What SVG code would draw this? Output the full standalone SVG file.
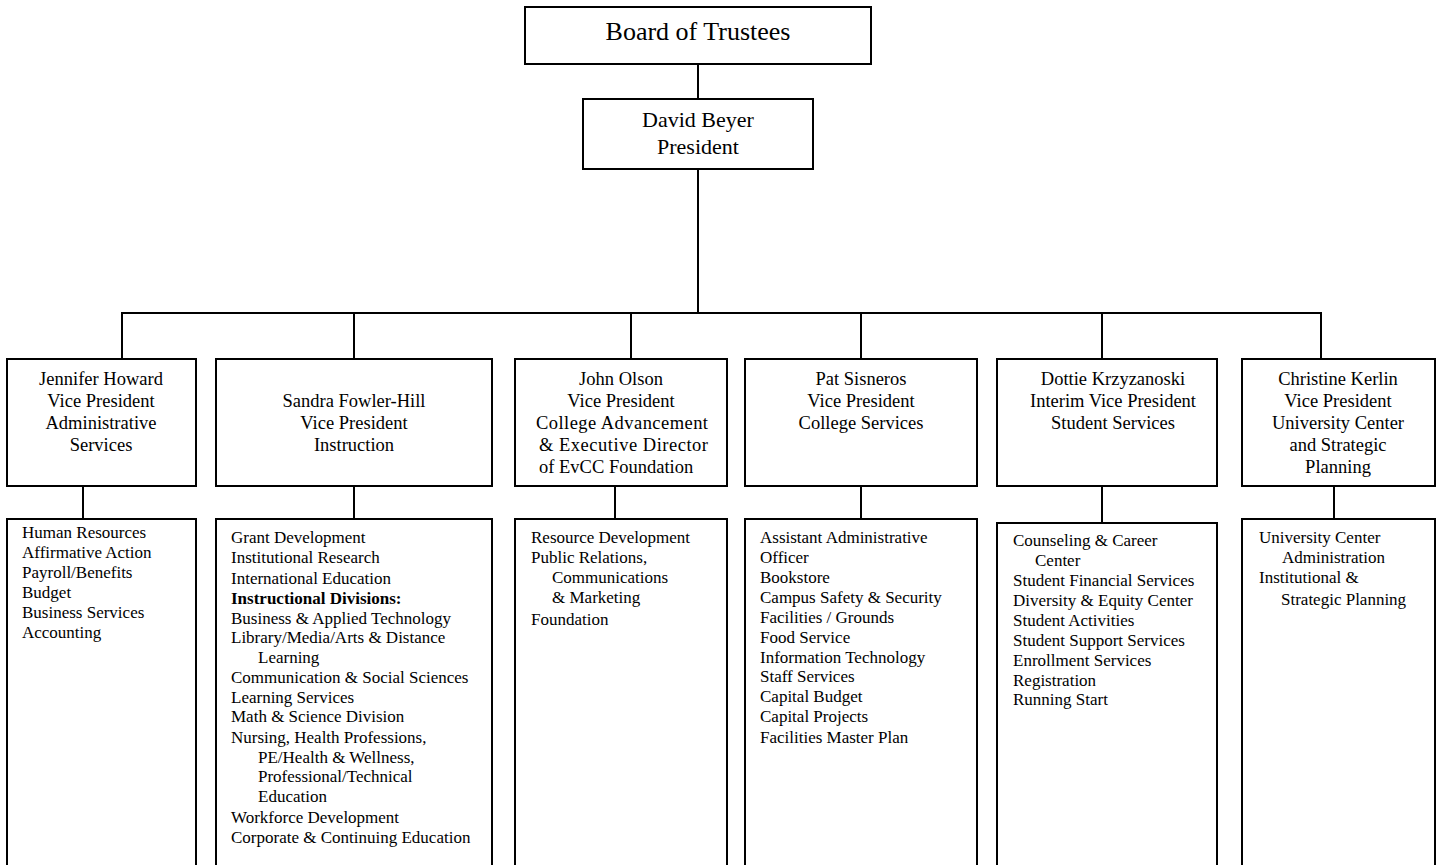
<svg xmlns="http://www.w3.org/2000/svg" width="1442" height="865" viewBox="0 0 1442 865">
  <style>
    .box { fill: #fff; stroke: #000; stroke-width: 2; }
    .conn line { stroke: #000; stroke-width: 2; }
    text { font-family: "Liberation Serif", "Times New Roman", serif; fill: #000; }
    .t1 { font-size: 26px; text-anchor: middle; }
    .t2 { font-size: 22px; text-anchor: middle; }
    .vp { font-size: 18.5px; text-anchor: middle; }
    .li { font-size: 17px; }
    .b { font-weight: bold; }
  </style>
  <rect width="1442" height="865" fill="#fff"/>

  <!-- connectors -->
  <g id="connectors" class="conn">
    <line x1="698" y1="64" x2="698" y2="99"/>
    <line x1="698" y1="169" x2="698" y2="313"/>
    <line x1="121" y1="313" x2="1322" y2="313"/>
    <line x1="122" y1="313" x2="122" y2="359"/>
    <line x1="354" y1="313" x2="354" y2="359"/>
    <line x1="631" y1="313" x2="631" y2="359"/>
    <line x1="861" y1="313" x2="861" y2="359"/>
    <line x1="1102" y1="313" x2="1102" y2="359"/>
    <line x1="1321" y1="313" x2="1321" y2="359"/>
    <line x1="83" y1="486" x2="83" y2="519"/>
    <line x1="354" y1="486" x2="354" y2="519"/>
    <line x1="615" y1="486" x2="615" y2="519"/>
    <line x1="861" y1="486" x2="861" y2="519"/>
    <line x1="1102" y1="486" x2="1102" y2="523"/>
    <line x1="1334" y1="486" x2="1334" y2="519"/>
  </g>

  <g id="board">
    <rect class="box" x="525" y="7" width="346" height="57"/>
    <text class="t1" x="698" y="40">Board of Trustees</text>
  </g>

  <g id="president">
    <rect class="box" x="583" y="99" width="230" height="70"/>
    <text class="t2" x="698" y="127">David Beyer</text>
    <text class="t2" x="698" y="154">President</text>
  </g>

  <!-- vice presidents -->
  <g id="vp-admin">
    <rect class="box" x="7" y="359" width="189" height="127"/>
    <text class="vp" x="101" y="385">Jennifer Howard</text>
    <text class="vp" x="101" y="407">Vice President</text>
    <text class="vp" x="101" y="429">Administrative</text>
    <text class="vp" x="101" y="451">Services</text>
  </g>

  <g id="vp-instruction">
    <rect class="box" x="216" y="359" width="276" height="127"/>
    <text class="vp" x="354" y="407">Sandra Fowler-Hill</text>
    <text class="vp" x="354" y="429">Vice President</text>
    <text class="vp" x="354" y="451">Instruction</text>
  </g>

  <g id="vp-advancement">
    <rect class="box" x="515" y="359" width="212" height="127"/>
    <text class="vp" x="621" y="385">John Olson</text>
    <text class="vp" x="621" y="407">Vice President</text>
    <text class="vp" x="536" y="429" style="text-anchor:start" textLength="172" lengthAdjust="spacing">College Advancement</text>
    <text class="vp" x="539" y="451" style="text-anchor:start" textLength="169" lengthAdjust="spacing">&amp; Executive Director</text>
    <text class="vp" x="539" y="473" style="text-anchor:start">of EvCC Foundation</text>
  </g>

  <g id="vp-college">
    <rect class="box" x="745" y="359" width="232" height="127"/>
    <text class="vp" x="861" y="385">Pat Sisneros</text>
    <text class="vp" x="861" y="407">Vice President</text>
    <text class="vp" x="861" y="429">College Services</text>
  </g>

  <g id="vp-student">
    <rect class="box" x="997" y="359" width="220" height="127"/>
    <text class="vp" x="1113" y="385">Dottie Krzyzanoski</text>
    <text class="vp" x="1113" y="407">Interim Vice President</text>
    <text class="vp" x="1113" y="429">Student Services</text>
  </g>

  <g id="vp-university">
    <rect class="box" x="1242" y="359" width="193" height="127"/>
    <text class="vp" x="1338" y="385">Christine Kerlin</text>
    <text class="vp" x="1338" y="407">Vice President</text>
    <text class="vp" x="1338" y="429">University Center</text>
    <text class="vp" x="1338" y="451">and Strategic</text>
    <text class="vp" x="1338" y="473">Planning</text>
  </g>

  <!-- departments -->
  <g id="dept-admin">
    <rect class="box" x="7" y="519" width="189" height="370"/>
    <text class="li" x="22" y="538">Human Resources</text>
    <text class="li" x="22" y="558">Affirmative Action</text>
    <text class="li" x="22" y="578">Payroll/Benefits</text>
    <text class="li" x="22" y="598">Budget</text>
    <text class="li" x="22" y="618">Business Services</text>
    <text class="li" x="22" y="638">Accounting</text>
  </g>

  <g id="dept-instruction">
    <rect class="box" x="216" y="519" width="276" height="370"/>
    <text class="li" x="231" y="543">Grant Development</text>
    <text class="li" x="231" y="563">Institutional Research</text>
    <text class="li" x="231" y="584">International Education</text>
    <text class="li b" x="231" y="604">Instructional Divisions:</text>
    <text class="li" x="231" y="624">Business &amp; Applied Technology</text>
    <text class="li" x="231" y="643">Library/Media/Arts &amp; Distance</text>
    <text class="li" x="258" y="663">Learning</text>
    <text class="li" x="231" y="683">Communication &amp; Social Sciences</text>
    <text class="li" x="231" y="703">Learning Services</text>
    <text class="li" x="231" y="722">Math &amp; Science Division</text>
    <text class="li" x="231" y="743">Nursing, Health Professions,</text>
    <text class="li" x="258" y="763">PE/Health &amp; Wellness,</text>
    <text class="li" x="258" y="782">Professional/Technical</text>
    <text class="li" x="258" y="802">Education</text>
    <text class="li" x="231" y="823">Workforce Development</text>
    <text class="li" x="231" y="843">Corporate &amp; Continuing Education</text>
  </g>

  <g id="dept-advancement">
    <rect class="box" x="515" y="519" width="212" height="370"/>
    <text class="li" x="531" y="543">Resource Development</text>
    <text class="li" x="531" y="563">Public Relations,</text>
    <text class="li" x="552" y="583">Communications</text>
    <text class="li" x="552" y="603">&amp; Marketing</text>
    <text class="li" x="531" y="625">Foundation</text>
  </g>

  <g id="dept-college">
    <rect class="box" x="745" y="519" width="232" height="370"/>
    <text class="li" x="760" y="543">Assistant Administrative</text>
    <text class="li" x="760" y="563">Officer</text>
    <text class="li" x="760" y="583">Bookstore</text>
    <text class="li" x="760" y="603">Campus Safety &amp; Security</text>
    <text class="li" x="760" y="623">Facilities / Grounds</text>
    <text class="li" x="760" y="643">Food Service</text>
    <text class="li" x="760" y="663">Information Technology</text>
    <text class="li" x="760" y="682">Staff Services</text>
    <text class="li" x="760" y="702">Capital Budget</text>
    <text class="li" x="760" y="722">Capital Projects</text>
    <text class="li" x="760" y="743">Facilities Master Plan</text>
  </g>

  <g id="dept-student">
    <rect class="box" x="997" y="523" width="220" height="370"/>
    <text class="li" x="1013" y="546">Counseling &amp; Career</text>
    <text class="li" x="1035" y="566">Center</text>
    <text class="li" x="1013" y="586">Student Financial Services</text>
    <text class="li" x="1013" y="606">Diversity &amp; Equity Center</text>
    <text class="li" x="1013" y="626">Student Activities</text>
    <text class="li" x="1013" y="646">Student Support Services</text>
    <text class="li" x="1013" y="666">Enrollment Services</text>
    <text class="li" x="1013" y="686">Registration</text>
    <text class="li" x="1013" y="705">Running Start</text>
  </g>

  <g id="dept-university">
    <rect class="box" x="1242" y="519" width="193" height="370"/>
    <text class="li" x="1259" y="543">University Center</text>
    <text class="li" x="1282" y="563">Administration</text>
    <text class="li" x="1259" y="583">Institutional &amp;</text>
    <text class="li" x="1281" y="605">Strategic Planning</text>
  </g>
</svg>
